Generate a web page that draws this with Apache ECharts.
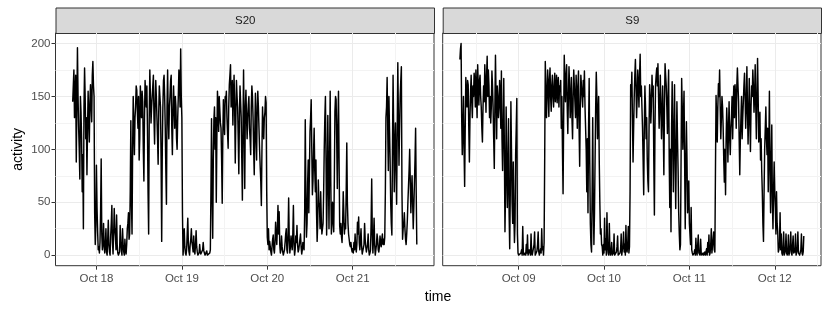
<!DOCTYPE html>
<html>
<head>
<meta charset="utf-8">
<script src="https://cdn.jsdelivr.net/npm/echarts@6/dist/echarts.min.js"></script>
<style>
  html, body { margin: 0; padding: 0; background: #fff; }
  #chart { width: 830px; height: 312px; }
</style>
</head>
<body>
<div id="chart"></div>
<script>
// x is counted in 10-minute steps from midnight of the panel's first day,
// one reading every 10 minutes
const panelNames = ['S20', 'S9'];
const s20Start = 104;   // Oct 17 17:20
const s9Start = 45;     // Oct 08 07:30

const dayTicks = [144, 288, 432, 576];
const s20DayLabels = ['Oct 18', 'Oct 19', 'Oct 20', 'Oct 21'];
const s9DayLabels = ['Oct 09', 'Oct 10', 'Oct 11', 'Oct 12'];
const activityTicks = [0, 50, 100, 150, 200];

const s20Activity = [
  145,160,175,130,150,170,88,140,196,150,120,100,72,150,135,110,60,95,25,140,177,150,110,130,76,120,155,130,107,145,161,140,126,170,183,160,150,
  40,
  10,30,85,45,22,5,8,2,12,40,91,20,5,12,30,8,2,10,25,3,0,15,33,10,3,0,18,30,47,12,1,20,44,25,18,5,38,10,2,0,0,3,28,12,5,0,25,10,3,0,15,5,1,10,25,30,40,15,20,
  60,
  127,50,20,100,150,120,95,130,140,160,156,135,120,150,90,110,160,140,130,155,145,100,70,130,165,150,140,160,120,60,20,130,175,150,125,140,150,160,170,130,
  105,140,165,150,130,110,86,135,160,150,140,90,13,100,140,165,170,150,120,80,48,140,175,130,110,140,150,165,170,120,95,135,160,140,120,150,140,110,100,130,150,175,162,140,195,150,130,
  40,
  0,10,25,8,2,0,5,20,35,10,3,0,10,15,25,12,8,3,18,5,1,10,23,8,3,0,0,2,10,3,1,0,2,5,12,4,2,0,0,1,4,0,1,0,0,2,5,
  60,
  129,60,16,90,128,140,100,130,50,110,155,140,117,150,137,125,120,90,49,110,147,130,114,150,145,155,130,115,101,140,161,170,180,140,150,165,123,150,170,140,
  87,130,165,150,140,110,77,130,160,145,130,90,52,120,175,120,63,140,156,130,110,130,142,150,120,110,95,140,160,150,130,100,76,120,153,110,90,140,155,140,120,100,84,70,47,100,140,120,110,130,135,150,144,
  60,
  17,10,25,5,13,8,3,0,8,15,19,5,2,12,31,20,10,25,47,20,41,10,2,5,18,8,3,0,0,5,12,20,25,5,2,20,54,15,2,8,18,10,5,20,47,10,0,5,18,12,28,10,3,5,10,15,20,8,1,5,12,8,5,
  40,
  128,60,17,30,69,90,40,80,117,130,147,100,57,70,98,120,80,60,90,40,13,30,71,50,45,25,60,35,20,25,30,60,101,130,150,90,19,60,132,80,
  25,90,155,70,20,30,50,35,22,70,136,150,147,110,63,120,155,90,28,20,30,18,12,30,60,40,20,30,25,60,106,50,30,20,15,10,8,12,6,
  3,
  6,2,12,5,20,8,3,10,31,20,36,12,5,15,25,8,1,0,0,10,30,15,8,3,2,10,20,5,0,2,5,30,72,20,2,15,35,10,0,5,10,20,15,5,3,8,18,12,8,15,20,10,15,
  10,
  17,60,130,140,168,120,80,150,120,90,50,30,19,100,170,120,60,100,125,80,48,120,182,130,85,120,150,165,178,60,15,25,30,40,25,15,10,20,32,50,65,80,100,70,40,60,75,50,25,45,68,90,120,60,10
];

const s9Activity = [
  185,195,200,130,95,120,150,100,65,120,168,150,140,165,161,120,88,130,155,170,145,130,160,150,172,165,140,175,150,130,180,160,142,165,170,150,140,120,107,140,
  160,145,180,160,135,170,188,150,175,160,130,150,125,140,174,160,139,110,82,140,189,150,110,160,150,130,140,
  165,
  150,120,174,110,80,120,167,100,22,60,140,90,45,80,129,40,6,60,145,100,50,30,88,40,12,30,95,120,148,
  20,
  2,0,0,0,0,2,5,0,27,3,0,0,2,0,10,2,19,0,0,5,3,0,20,2,0,0,0,10,22,0,1,0,4,10,22,3,0,0,6,2,25,5,8,0,12,
  90,
  183,160,130,150,175,160,131,165,177,150,136,160,170,150,140,160,172,145,155,170,144,160,168,140,160,155,165,120,150,100,58,130,189,165,145,170,180,140,115,150,
  178,160,130,145,168,130,110,150,175,160,145,130,170,150,120,160,174,120,84,140,170,160,150,140,165,
  150,
  174,140,120,100,60,110,40,120,167,90,30,10,3,60,130,50,10,40,91,140,173,150,110,130,150,90,50,20,25,10,8,
  0,
  10,2,35,5,15,0,40,10,2,0,30,5,0,3,12,0,0,2,20,0,0,0,3,8,18,0,0,0,2,5,20,0,5,8,22,3,10,0,28,5,3,10,27,2,8,
  60,
  161,150,173,130,88,120,150,170,185,160,130,150,175,160,140,170,190,150,160,140,120,90,57,120,160,140,110,130,91,70,60,120,161,150,125,140,170,150,160,90,
  38,120,161,170,177,160,181,150,120,140,170,140,110,135,160,120,76,140,181,170,160,140,115,150,175,90,45,
  100,
  22,120,164,110,60,120,161,90,44,100,145,110,80,40,20,5,10,90,167,140,100,130,155,90,25,80,126,90,40,55,70,30,20,10,45,
  5,
  2,0,0,2,5,0,16,3,0,0,19,2,3,0,15,2,0,0,2,0,0,3,0,0,6,0,12,3,19,0,2,10,25,2,8,15,22,5,3,
  80,
  151,130,107,140,162,150,175,140,110,130,150,140,120,90,69,100,57,110,139,120,88,120,145,110,95,120,130,150,110,140,160,130,161,150,120,160,177,160,145,110,
  76,110,130,150,110,130,145,160,172,150,120,140,178,140,105,130,167,130,98,140,160,150,175,160,135,150,180,140,110,150,186,
  150,
  107,125,135,90,110,80,60,30,13,60,100,120,140,110,95,120,60,100,155,80,40,90,123,50,25,
  60,
  88,60,44,20,60,30,22,3,5,10,40,5,20,2,0,5,22,0,2,5,20,2,0,3,19,0,3,8,22,2,0,0,18,2,5,3,20,0,0,5,22,2,3,0,0,5,20,2,0,3,18
];

const toPoints = (start, values) => values.map((v, i) => [start + i, v]);

const MAJOR = '#ebebeb', MINOR = '#f3f3f3';
const FONT = '"Liberation Sans", Arial, sans-serif';
const panels = [
  {left: 55.5, width: 378.5, xmin: 75, xmax: 713, labels: s20DayLabels, start: s20Start, values: s20Activity},
  {left: 442.7, width: 378.3, xmin: 16, xmax: 654, labels: s9DayLabels, start: s9Start, values: s9Activity}
];
const panelTop = 33, panelHeight = 232.7;
const yMin = -10, yMax = 210;

// grid lines: majors on the ticks, minors half way between
const yLines = [0, 25, 50, 75, 100, 125, 150, 175, 200];
const xLinesFor = p => [72, 144, 216, 288, 360, 432, 504, 576, 648].filter(v => v > p.xmin && v < p.xmax);

const chart = echarts.init(document.getElementById('chart'), null, {renderer: 'canvas'});

const xAxes = [], yAxes = [];
panels.forEach((p, i) => {
  const xl = xLinesFor(p);
  xAxes.push({
    type: 'value', gridIndex: i, min: p.xmin, max: p.xmax, position: 'bottom',
    axisLine: {show: false, onZero: false},
    axisTick: {show: true, customValues: dayTicks, length: 4, lineStyle: {color: '#333', width: 1}},
    axisLabel: {
      show: true, customValues: dayTicks, margin: 7, fontSize: 11.5, color: '#4d4d4d', fontFamily: FONT,
      formatter: v => p.labels[dayTicks.indexOf(v)]
    },
    splitLine: {show: false}
  });
  xAxes.push({
    type: 'value', gridIndex: i, min: p.xmin, max: p.xmax,
    axisLine: {show: false, onZero: false}, axisLabel: {show: false},
    axisTick: {show: false, customValues: xl},
    splitLine: {show: true, lineStyle: {color: xl.map(v => v % 144 === 0 ? MAJOR : MINOR), width: 1}}
  });
  yAxes.push({
    type: 'value', gridIndex: i, min: yMin, max: yMax, position: 'left',
    name: i === 0 ? 'activity' : '', nameLocation: 'middle', nameRotate: 90, nameGap: 30,
    nameTextStyle: {fontSize: 14, color: '#000', fontFamily: FONT},
    axisLine: {show: false, onZero: false},
    axisTick: {show: i === 0, customValues: activityTicks, length: 4, lineStyle: {color: '#333', width: 1}},
    axisLabel: {show: i === 0, customValues: activityTicks, margin: 5, fontSize: 11.5, color: '#4d4d4d', fontFamily: FONT},
    splitLine: {show: false}
  });
  yAxes.push({
    type: 'value', gridIndex: i, min: yMin, max: yMax,
    axisLine: {show: false, onZero: false}, axisLabel: {show: false},
    axisTick: {show: false, customValues: yLines},
    splitLine: {show: true, lineStyle: {color: yLines.map(v => v % 50 === 0 ? MAJOR : MINOR), width: 1}}
  });
});

const option = {
  animation: false,
  backgroundColor: '#fff',
  textStyle: {fontFamily: FONT},
  grid: panels.map(p => ({
    left: p.left, top: panelTop, width: p.width, height: panelHeight,
    show: true, borderColor: '#333', borderWidth: 1, backgroundColor: 'transparent',
    containLabel: false
  })),
  xAxis: xAxes,
  yAxis: yAxes,
  series: panels.map((p, i) => ({
    name: panelNames[i], type: 'line', xAxisIndex: 2 * i, yAxisIndex: 2 * i,
    data: toPoints(p.start, p.values),
    symbol: 'none', showSymbol: false, sampling: null, clip: true, z: 5,
    lineStyle: {color: '#000', width: 1.45, join: 'round'}
  })),
  graphic: [
    ...panels.map((p, i) => ({
      type: 'group', left: p.left, top: 7.5,
      children: [
        {type: 'rect', shape: {x: 0, y: 0, width: p.width, height: 25.5},
         style: {fill: '#d9d9d9', stroke: '#333', lineWidth: 1}},
        {type: 'text', x: p.width / 2, y: 13,
         style: {text: panelNames[i], fill: '#1a1a1a', font: '11.5px ' + FONT, align: 'center', verticalAlign: 'middle'}}
      ]
    })),
    {type: 'text', x: 438, y: 297,
     style: {text: 'time', fill: '#000', font: '14px ' + FONT, align: 'center', verticalAlign: 'middle'}}
  ]
};

chart.setOption(option);
</script>
</body>
</html>
